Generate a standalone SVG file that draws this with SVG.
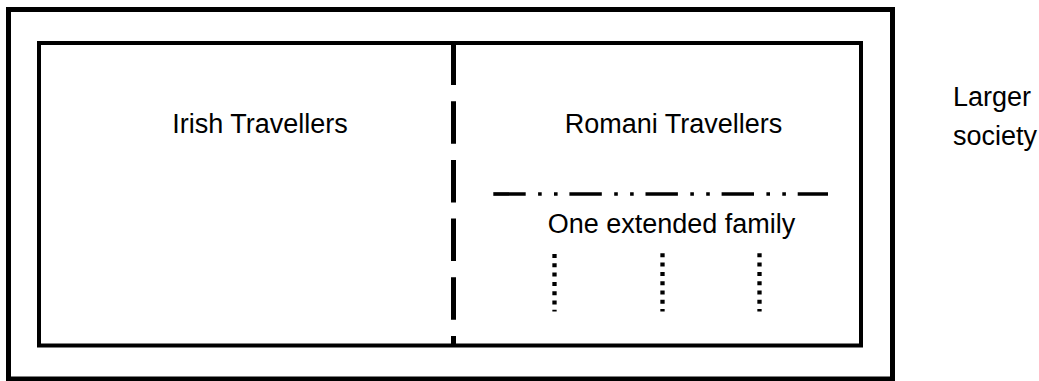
<svg xmlns="http://www.w3.org/2000/svg" width="1039" height="381" viewBox="0 0 1039 381">
  <style>
    .box { fill: none; stroke: #000; }
    .lbl { font-family: "Liberation Sans", Arial, sans-serif; font-size: 27px; fill: #000; }
    .sep { fill: none; stroke: #000; stroke-linecap: butt; }
  </style>
  <rect width="1039" height="381" fill="#fff"/>
  <g id="larger-society">
    <rect class="box" x="8.5" y="9.5" width="884" height="369.5" stroke-width="5"/>
    <text class="lbl" x="953" y="106">Larger</text>
    <text class="lbl" x="953" y="145">society</text>
  </g>
  <g id="travellers">
    <rect class="box" x="39" y="43" width="822" height="302.5" stroke-width="4"/>
  </g>
  <g id="irish-travellers">
    <text class="lbl" x="260" y="133" text-anchor="middle">Irish Travellers</text>
  </g>
  <g id="romani-travellers">
    <text class="lbl" x="673.5" y="133" text-anchor="middle">Romani Travellers</text>
  </g>
  <g id="extended-family">
    <text class="lbl" x="671.5" y="233" text-anchor="middle">One extended family</text>
  </g>
  <g id="connectors">
    <line class="sep" x1="453.5" y1="42.5" x2="453.5" y2="345" stroke-width="5" stroke-dasharray="42.5 16.2"/>
    <line class="sep" x1="493.3" y1="194" x2="828" y2="194" stroke-width="3.7" stroke-dasharray="32.4 12.4 3.6 12.3 3.6 11.8"/>
    <line class="sep" x1="554.5" y1="254" x2="554.5" y2="311.5" stroke-width="4.3" stroke-dasharray="4 5.3"/>
    <line class="sep" x1="662.5" y1="253.3" x2="662.5" y2="311.5" stroke-width="4.3" stroke-dasharray="4 5.3"/>
    <line class="sep" x1="759.5" y1="253.3" x2="759.5" y2="311.5" stroke-width="4.3" stroke-dasharray="4 5.3"/>
  </g>
</svg>
